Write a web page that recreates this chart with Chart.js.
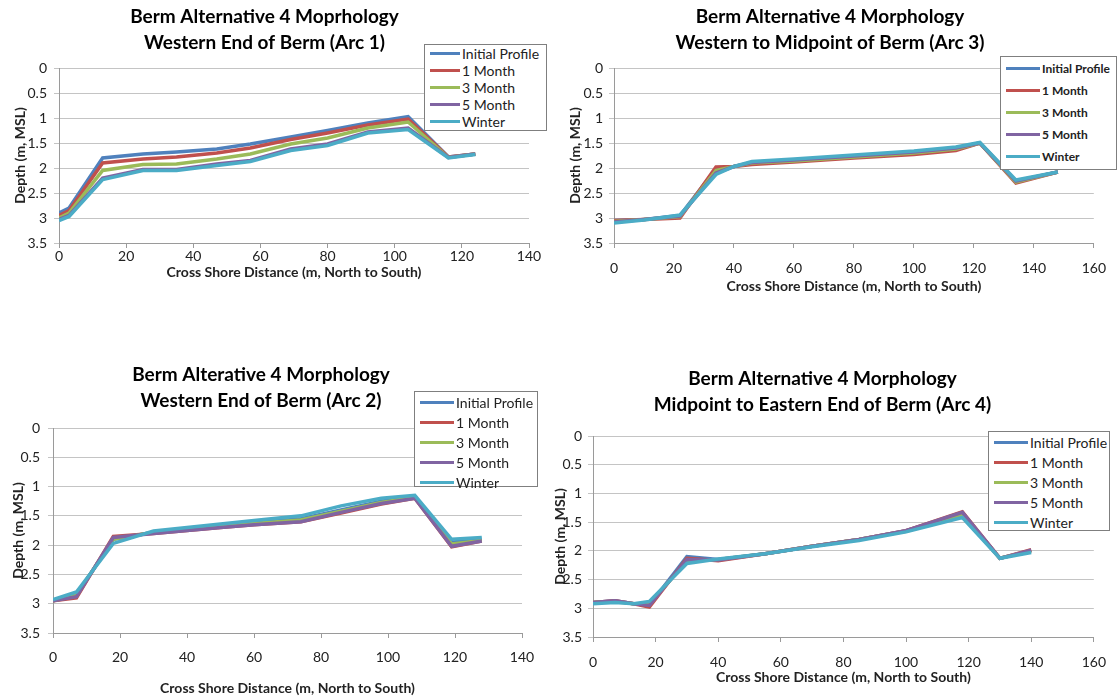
<!DOCTYPE html>
<html>
<head>
<meta charset="utf-8">
<script src="https://cdn.jsdelivr.net/npm/chart.js@4.4.1/dist/chart.umd.min.js"></script>
<style>
    body { margin: 0; background: #fff; width: 1118px; height: 700px; position: relative; overflow: hidden; font-family: Lato, sans-serif; }
    canvas { position: absolute; }
    .legend { position: absolute; background: #fff; border: 1px solid #7f7f7f; box-sizing: border-box; color: #222; }
    .legend .row { display: flex; align-items: center; white-space: nowrap; }
    .legend .swatch { display: inline-block; height: 3px; margin-right: 2px; }
</style>
</head>
<body>
<canvas id="arc1"></canvas>
<canvas id="arc3"></canvas>
<canvas id="arc2"></canvas>
<canvas id="arc4"></canvas>
<script>
const seriesNames = ['Initial Profile', '1 Month', '3 Month', '5 Month', 'Winter'];
const seriesColors = ['#4F81BD', '#C0504D', '#9BBB59', '#8064A2', '#4BACC6'];

// Arc 1 - Western End of Berm
const arc1Distance = [0, 3, 13, 25, 35, 47, 57, 69, 80, 92, 104, 116, 124];
const arc1Initial = [2.9, 2.8, 1.8, 1.72, 1.68, 1.62, 1.52, 1.38, 1.25, 1.1, 0.97, 1.78, 1.72];
const arc1Month1 = [2.95, 2.85, 1.9, 1.82, 1.78, 1.7, 1.6, 1.43, 1.3, 1.14, 1.02, 1.78, 1.72];
const arc1Month3 = [3.0, 2.9, 2.05, 1.93, 1.92, 1.82, 1.72, 1.52, 1.4, 1.2, 1.08, 1.79, 1.72];
const arc1Month5 = [3.03, 2.95, 2.2, 2.03, 2.03, 1.92, 1.85, 1.62, 1.52, 1.28, 1.2, 1.79, 1.72];
const arc1Winter = [3.05, 2.97, 2.23, 2.05, 2.05, 1.95, 1.87, 1.65, 1.55, 1.3, 1.23, 1.8, 1.73];

// Arc 3 - Western to Midpoint
const arc3Distance = [0, 10, 22, 34, 40, 46, 60, 80, 100, 114, 122, 134, 148];
const arc3Initial = [3.05, 3.03, 2.95, 2.02, 1.97, 1.9, 1.85, 1.77, 1.69, 1.62, 1.5, 2.27, 2.08];
const arc3Month1 = [3.05, 3.03, 3.0, 1.98, 1.97, 1.93, 1.88, 1.8, 1.73, 1.65, 1.5, 2.3, 2.08];
const arc3Month3 = [3.07, 3.03, 2.97, 2.05, 1.97, 1.9, 1.86, 1.78, 1.7, 1.62, 1.5, 2.28, 2.08];
const arc3Month5 = [3.08, 3.03, 2.96, 2.1, 1.97, 1.89, 1.84, 1.76, 1.68, 1.6, 1.5, 2.26, 2.08];
const arc3Winter = [3.1, 3.04, 2.94, 2.13, 1.97, 1.87, 1.82, 1.74, 1.66, 1.58, 1.49, 2.24, 2.08];

// Arc 2 - Western End of Berm
const arc2Distance = [0, 7, 18, 30, 40, 50, 60, 74, 86, 98, 108, 119, 128];
const arc2Initial = [2.95, 2.85, 1.9, 1.78, 1.72, 1.67, 1.62, 1.55, 1.4, 1.25, 1.17, 1.95, 1.9];
const arc2Month1 = [2.95, 2.9, 1.85, 1.8, 1.75, 1.7, 1.65, 1.6, 1.45, 1.3, 1.2, 2.03, 1.93];
const arc2Month3 = [2.95, 2.85, 1.9, 1.78, 1.73, 1.68, 1.63, 1.57, 1.42, 1.27, 1.18, 1.98, 1.92];
const arc2Month5 = [2.95, 2.88, 1.87, 1.8, 1.75, 1.7, 1.65, 1.6, 1.44, 1.29, 1.2, 2.02, 1.93];
const arc2Winter = [2.93, 2.8, 1.97, 1.76, 1.7, 1.64, 1.58, 1.5, 1.33, 1.2, 1.15, 1.9, 1.87];

// Arc 4 - Midpoint to Eastern End
const arc4Distance = [0, 7, 13, 18, 30, 40, 55, 70, 85, 100, 118, 130, 140];
const arc4Initial = [2.9, 2.87, 2.92, 2.95, 2.1, 2.15, 2.05, 1.92, 1.8, 1.65, 1.35, 2.13, 2.0];
const arc4Month1 = [2.9, 2.87, 2.92, 2.98, 2.13, 2.17, 2.05, 1.92, 1.8, 1.65, 1.32, 2.13, 1.98];
const arc4Month3 = [2.9, 2.88, 2.92, 2.93, 2.17, 2.15, 2.05, 1.92, 1.8, 1.66, 1.38, 2.13, 2.0];
const arc4Month5 = [2.9, 2.87, 2.92, 2.95, 2.15, 2.16, 2.05, 1.92, 1.8, 1.65, 1.33, 2.13, 1.99];
const arc4Winter = [2.92, 2.9, 2.92, 2.88, 2.22, 2.14, 2.05, 1.93, 1.82, 1.67, 1.42, 2.13, 2.03];

const panels = [
    {
        id: 'arc1', title: ['Berm Alternative 4 Moprhology', 'Western End of Berm (Arc 1)'],
        distance: arc1Distance, series: [arc1Initial, arc1Month1, arc1Month3, arc1Month5, arc1Winter], xMax: 140,
        box: {x: 0, y: 0, w: 559, h: 290}, plot: {l: 59, t: 68, r: 529, b: 243},
        titleY: 17, xTitleY: 272, yTitleX: 20, xTickPad: 0, yTickPad: 7,
        legend: {x: 424, y: 44, w: 123, h: 87, row: 17, sw: 30, size: 14, weight: 'normal'}
    },
    {
        id: 'arc3', title: ['Berm Alternative 4 Morphology', 'Western to Midpoint of Berm (Arc 3)'],
        distance: arc3Distance, series: [arc3Initial, arc3Month1, arc3Month3, arc3Month5, arc3Winter], xMax: 160,
        box: {x: 560, y: 0, w: 558, h: 300}, plot: {l: 614, t: 68, r: 1100, b: 243},
        titleY: 17, xTitleY: 286, yTitleX: 575, xTickPad: 12, yTickPad: 6,
        legend: {x: 1000, y: 56, w: 117, h: 114, row: 22, sw: 34, size: 12, weight: 'bold'}
    },
    {
        id: 'arc2', title: ['Berm Alterative 4 Morphology', 'Western End of Berm (Arc 2)'],
        distance: arc2Distance, series: [arc2Initial, arc2Month1, arc2Month3, arc2Month5, arc2Winter], xMax: 140,
        box: {x: 0, y: 355, w: 560, h: 345}, plot: {l: 53, t: 428, r: 522, b: 633},
        titleY: 375, xTitleY: 688, yTitleX: 18, xTickPad: 11, yTickPad: 8,
        legend: {x: 414, y: 391, w: 124, h: 96, row: 20, sw: 34, size: 14, weight: 'normal'}
    },
    {
        id: 'arc4', title: ['Berm Alternative 4 Morphology', 'Midpoint to Eastern End of Berm (Arc 4)'],
        distance: arc4Distance, series: [arc4Initial, arc4Month1, arc4Month3, arc4Month5, arc4Winter], xMax: 160,
        box: {x: 548, y: 355, w: 570, h: 345}, plot: {l: 593, t: 436, r: 1097, b: 637},
        titleY: 379, xTitleY: 677, yTitleX: 560, xTickPad: 12, yTickPad: 6,
        legend: {x: 988, y: 431, w: 122, h: 100, row: 20, sw: 34, size: 14, weight: 'normal'}
    }
];

const titleLine = 26;
const titleSize = 19;
const axisTitleSize = 14;

function drawPanel(p) {
    const canvas = document.getElementById(p.id);
    canvas.width = p.box.w;
    canvas.height = p.box.h;
    canvas.style.left = p.box.x + 'px';
    canvas.style.top = p.box.y + 'px';

    const datasets = p.series.map((vals, i) => ({
        label: seriesNames[i],
        data: vals.map((v, k) => ({x: p.distance[k], y: v})),
        borderColor: seriesColors[i],
        backgroundColor: seriesColors[i],
        borderWidth: 3.5,
        pointRadius: 0,
        tension: 0,
        fill: false,
        order: seriesNames.length - i
    }));

    const titleTop = p.titleY - p.box.y - titleLine / 2;
    const axisHalf = axisTitleSize * 1.2 / 2;

    new Chart(canvas, {
        type: 'line',
        data: {datasets: datasets},
        options: {
            responsive: false,
            animation: false,
            layout: {padding: {left: 0, top: 0, bottom: 0, right: p.box.x + p.box.w - p.plot.r}},
            plugins: {
                legend: {display: false},
                tooltip: {enabled: false},
                title: {
                    display: true,
                    text: p.title,
                    color: '#000',
                    font: {family: 'Lato', size: titleSize, weight: 'bold', lineHeight: titleLine / titleSize},
                    padding: {top: titleTop, bottom: p.plot.t - p.box.y - titleTop - 2 * titleLine}
                }
            },
            scales: {
                x: {
                    type: 'linear',
                    min: 0,
                    max: p.xMax,
                    ticks: {stepSize: 20, padding: p.xTickPad, maxRotation: 0, color: '#222', font: {family: 'Lato', size: 14}},
                    grid: {drawOnChartArea: false, tickLength: 5, color: '#9a9a9a'},
                    border: {color: '#9a9a9a'},
                    title: {
                        display: true,
                        text: 'Cross Shore Distance (m, North to South)',
                        color: '#222',
                        font: {family: 'Lato', size: axisTitleSize, weight: 'bold'},
                        padding: {top: 0, bottom: p.box.y + p.box.h - p.xTitleY - axisHalf}
                    },
                    afterFit: s => { s.height = p.box.y + p.box.h - p.plot.b; }
                },
                y: {
                    reverse: true,
                    min: 0,
                    max: 3.5,
                    ticks: {stepSize: 0.5, padding: p.yTickPad, color: '#222', font: {family: 'Lato', size: 14}, callback: v => String(v)},
                    grid: {color: '#c4c4c4', tickLength: 5},
                    border: {color: '#9a9a9a'},
                    title: {
                        display: true,
                        text: 'Depth (m, MSL)',
                        color: '#222',
                        font: {family: 'Lato', size: axisTitleSize, weight: 'bold'},
                        padding: {top: Math.max(0, p.yTitleX - p.box.x - axisHalf), bottom: 0}
                    },
                    afterFit: s => { s.width = p.plot.l - p.box.x; }
                }
            }
        }
    });

    // legend box laid over the plot, like the original spreadsheet chart
    const lg = document.createElement('div');
    lg.className = 'legend';
    lg.style.left = p.legend.x + 'px';
    lg.style.top = p.legend.y + 'px';
    lg.style.width = p.legend.w + 'px';
    lg.style.height = p.legend.h + 'px';
    lg.style.fontSize = p.legend.size + 'px';
    lg.style.fontWeight = p.legend.weight;
    seriesNames.forEach((name, i) => {
        const row = document.createElement('div');
        row.className = 'row';
        row.style.height = p.legend.row + 'px';
        const sw = document.createElement('span');
        sw.className = 'swatch';
        sw.style.width = p.legend.sw + 'px';
        sw.style.marginLeft = '5px';
        sw.style.background = seriesColors[i];
        const txt = document.createElement('span');
        txt.textContent = name;
        row.appendChild(sw);
        row.appendChild(txt);
        lg.appendChild(row);
    });
    document.body.appendChild(lg);
}

panels.forEach(drawPanel);
</script>
</body>
</html>
